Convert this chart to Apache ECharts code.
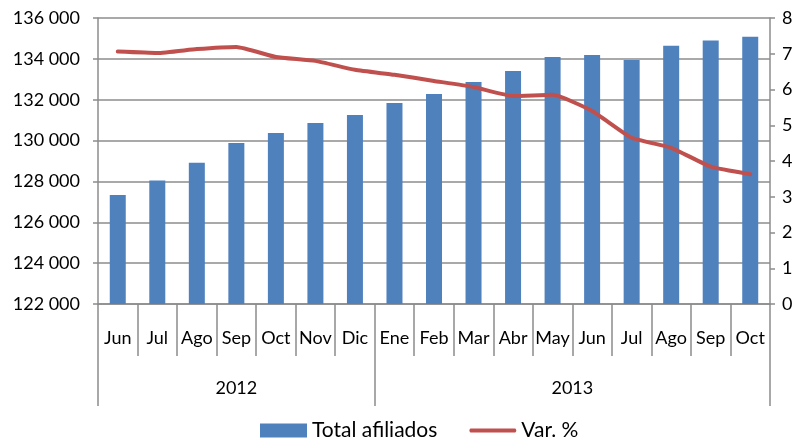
<!DOCTYPE html>
<html>
<head>
<meta charset="utf-8">
<script src="https://cdn.jsdelivr.net/npm/echarts@6/dist/echarts.min.js"></script>
<style>
  html, body { margin: 0; padding: 0; background: #fff; }
  #chart { width: 798px; height: 441px; }
</style>
</head>
<body>
<div id="chart"></div>
<script>
const months = ['Jun', 'Jul', 'Ago', 'Sep', 'Oct', 'Nov', 'Dic', 'Ene', 'Feb', 'Mar', 'Abr', 'May', 'Jun', 'Jul', 'Ago', 'Sep', 'Oct'];
const years = ['2012', '2013'];
const yearBounds = [0, 7, 17];
const yearCenters = [3.5, 12];
const totalAfiliados = [127340, 128040, 128920, 129880, 130370, 130860, 131250, 131840, 132280, 132870, 133400, 134090, 134190, 133940, 134640, 134900, 135080];
const varPct = [7.06, 7.02, 7.13, 7.19, 6.91, 6.80, 6.55, 6.41, 6.24, 6.07, 5.82, 5.85, 5.40, 4.65, 4.37, 3.84, 3.63];

const gray = '#8c8c8c';
const font = 'Lato, "Open Sans", sans-serif';

const chart = echarts.init(document.getElementById('chart'), null, { renderer: 'canvas' });

chart.setOption({
  animation: false,
  textStyle: { fontFamily: font },
  grid: { left: 98, right: 28, top: 18, bottom: 137 },
  legend: {
    top: 420,
    left: 260,
    padding: 0,
    itemGap: 32,
    itemWidth: 47,
    itemHeight: 14,
    textStyle: { fontSize: 21, color: '#000', fontFamily: font },
    data: [
      { name: 'Total afiliados', icon: 'rect' },
      { name: 'Var. %', icon: 'path://M2,0 L46,0 Q48,2 46,4 L2,4 Q0,2 2,0 Z', itemStyle: { color: '#c0504d' } }
    ]
  },
  xAxis: [
    {
      type: 'category',
      data: months,
      position: 'bottom',
      axisLine: { lineStyle: { color: gray, width: 1.5 } },
      axisTick: { show: true, interval: 0, length: 52, inside: false, lineStyle: { color: gray, width: 1.5 } },
      axisLabel: { interval: 0, margin: 25, fontSize: 18, color: '#000', fontFamily: font }
    },
    {
      type: 'value',
      min: 0,
      max: 17,
      position: 'bottom',
      axisLine: { show: false },
      splitLine: { show: false },
      axisTick: { show: true, customValues: yearBounds, length: 102, lineStyle: { color: gray, width: 1.5 } },
      axisLabel: {
        customValues: yearCenters,
        margin: 75,
        fontSize: 18,
        color: '#000',
        fontFamily: font,
        formatter: function (v) { return years[yearCenters.indexOf(v)] || ''; }
      }
    }
  ],
  yAxis: [
    {
      type: 'value',
      min: 122000,
      max: 136000,
      interval: 2000,
      axisLine: { show: true, lineStyle: { color: gray, width: 1.5 } },
      axisTick: { show: true, length: 5, lineStyle: { color: gray, width: 1.5 } },
      splitLine: { show: true, lineStyle: { color: gray, width: 1.5 } },
      axisLabel: {
        fontSize: 18,
        color: '#000',
        fontFamily: font,
        margin: 18,
        formatter: function (v) { return String(v).replace(/\B(?=(\d{3})+(?!\d))/g, ' '); }
      }
    },
    {
      type: 'value',
      min: 0,
      max: 8,
      interval: 1,
      position: 'right',
      axisLine: { show: true, lineStyle: { color: gray, width: 1.5 } },
      axisTick: { show: true, length: 5, lineStyle: { color: gray, width: 1.5 } },
      splitLine: { show: false },
      axisLabel: { fontSize: 18, color: '#000', fontFamily: font, margin: 12 }
    }
  ],
  series: [
    {
      name: 'Total afiliados',
      type: 'bar',
      xAxisIndex: 0,
      yAxisIndex: 0,
      data: totalAfiliados,
      barWidth: 16,
      itemStyle: { color: '#4f81bd' }
    },
    {
      name: 'Var. %',
      type: 'line',
      xAxisIndex: 0,
      yAxisIndex: 1,
      data: varPct,
      symbol: 'none',
      smooth: 0.15,
      lineStyle: { color: '#c0504d', width: 4, cap: 'round', join: 'round' },
      itemStyle: { color: '#c0504d' }
    }
  ]
});

window.onresize = function () { chart.resize(); };
</script>
</body>
</html>
